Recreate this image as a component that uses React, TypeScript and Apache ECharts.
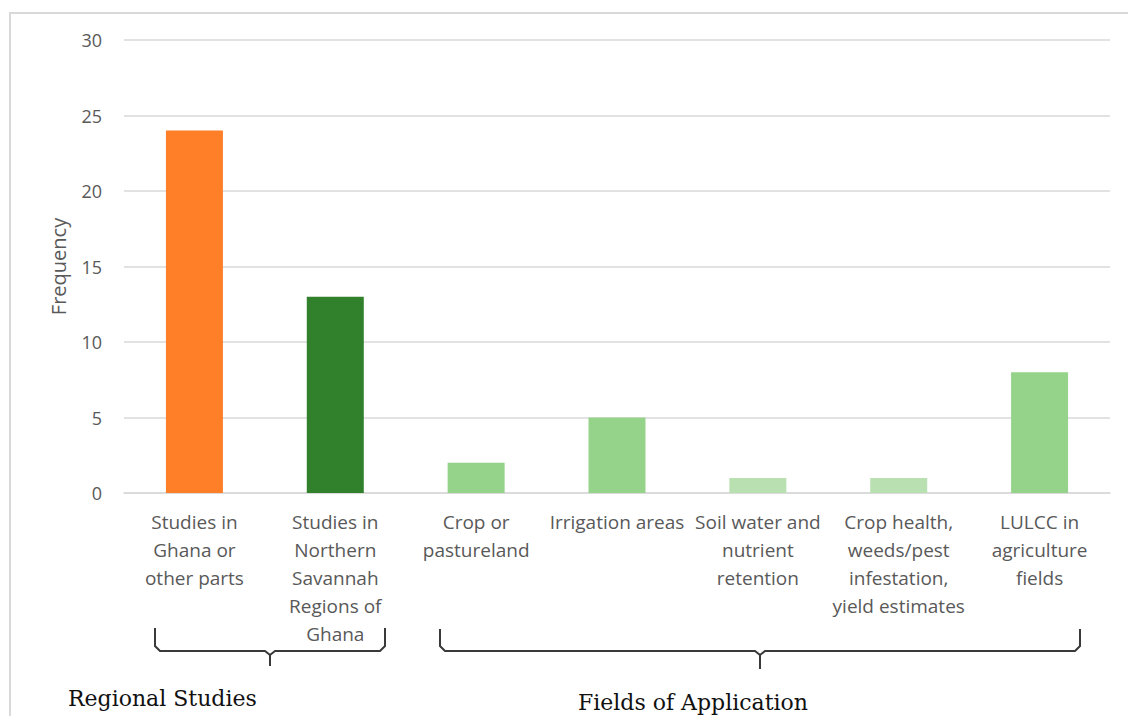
import React, { useEffect, useRef } from "react";
import * as echarts from "echarts";

const categories = [
  "Studies in\nGhana or\nother parts",
  "Studies in\nNorthern\nSavannah\nRegions of\nGhana",
  "Crop or\npastureland",
  "Irrigation areas",
  "Soil water and\nnutrient\nretention",
  "Crop health,\nweeds/pest\ninfestation,\nyield estimates",
  "LULCC in\nagriculture\nfields",
];
const frequency = [24, 13, 2, 5, 1, 1, 8];
const barColors = ["#FE7F27", "#31802C", "#95D38A", "#95D38A", "#B8E0B1", "#B8E0B1", "#95D38A"];
const yTicks = { min: 0, max: 30, interval: 5 };
const groupLabels = ["Regional Studies", "Fields of Application"];

export default function App() {
  const ref = useRef<HTMLDivElement>(null);
  useEffect(() => {
    if (!ref.current) return;
    const chart = echarts.init(ref.current, null, { renderer: "svg" });
    const bracketStyle = { stroke: "#3a3a3a", lineWidth: 2, fill: "none" };
    chart.setOption({
      animation: false,
      backgroundColor: "#ffffff",
      grid: { left: 124, right: 18, top: 40, bottom: 223 },
      xAxis: {
        type: "category",
        data: categories,
        axisLine: { show: true, lineStyle: { color: "#d9d9d9", width: 1.5 } },
        axisTick: { show: false },
        axisLabel: {
          interval: 0,
          color: "#595959",
          fontFamily: "Open Sans",
          fontSize: 19,
          lineHeight: 28,
          margin: 15,
          align: "center",
        },
      },
      yAxis: {
        type: "value",
        min: yTicks.min,
        max: yTicks.max,
        interval: yTicks.interval,
        name: "Frequency",
        nameLocation: "middle",
        nameRotate: 90,
        nameGap: 56,
        nameTextStyle: { color: "#595959", fontFamily: "Open Sans", fontSize: 20 },
        axisLine: { show: false },
        axisTick: { show: false },
        axisLabel: { color: "#595959", fontFamily: "Open Sans", fontSize: 18, margin: 22 },
        splitLine: { lineStyle: { color: "#d9d9d9", width: 1.5 } },
      },
      series: [
        {
          type: "bar",
          barWidth: 57,
          data: frequency.map((v, i) => ({ value: v, itemStyle: { color: barColors[i] } })),
        },
      ],
      graphic: [
        {
          type: "rect",
          shape: { x: 10, y: 13, width: 1130, height: 720 },
          style: { fill: "none", stroke: "#d9d9d9", lineWidth: 2 },
          silent: true,
        },
        {
          type: "polyline",
          shape: { points: [[155, 628], [155, 646], [160, 651], [265, 651], [270, 655], [270, 666]] },
          style: bracketStyle,
        },
        {
          type: "polyline",
          shape: { points: [[270, 655], [275, 651], [380, 651], [385, 646], [385, 628]] },
          style: bracketStyle,
        },
        {
          type: "polyline",
          shape: { points: [[440, 629], [440, 646], [445, 651], [755, 651], [760, 655], [760, 669]] },
          style: bracketStyle,
        },
        {
          type: "polyline",
          shape: { points: [[760, 655], [765, 651], [1075, 651], [1080, 646], [1080, 629]] },
          style: bracketStyle,
        },
        {
          type: "text",
          x: 68,
          y: 698,
          style: {
            text: groupLabels[0],
            fill: "#111111",
            font: "22px 'DejaVu Serif'",
            textAlign: "left",
            textVerticalAlign: "middle",
          },
        },
        {
          type: "text",
          x: 693,
          y: 702,
          style: {
            text: groupLabels[1],
            fill: "#111111",
            font: "22px 'DejaVu Serif'",
            textAlign: "center",
            textVerticalAlign: "middle",
          },
        },
      ],
    });
    return () => chart.dispose();
  }, []);
  return (
    <div
      ref={ref}
      style={{ position: "fixed", left: 0, top: 0, width: 1128, height: 716 }}
    />
  );
}
